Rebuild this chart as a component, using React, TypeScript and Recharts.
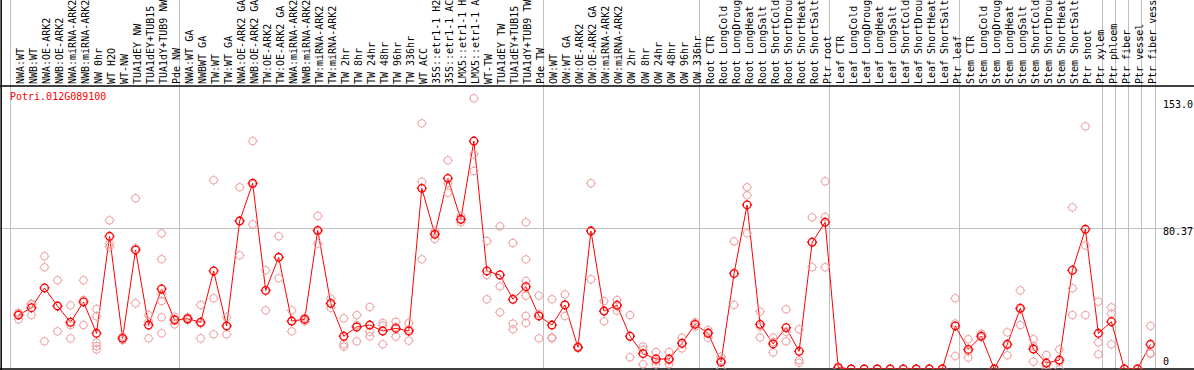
import {
  ComposedChart,
  XAxis,
  YAxis,
  Line,
  Scatter,
  ReferenceLine,
} from 'recharts';

const geneName = 'Potri.012G089100';

const categories = [
  'NWA:WT', 'NWB:WT', 'NWA:OE-ARK2', 'NWB:OE-ARK2', 'NWA:miRNA-ARK2', 'NWB:miRNA-ARK2',
  'NW 0hr', 'WT H2O', 'WT-NW', 'TUA1dEY NW', 'TUA1dEY+TUB15 NW', 'TUA1dY+TUB9 NW', 'Pde NW',
  'NWA:WT GA', 'NWBWT GA', 'TW:WT', 'TW:WT GA', 'NWA:OE-ARK2 GA', 'NWB:OE-ARK2 GA',
  'TW:OE-ARK2', 'TW:OE-ARK2 GA', 'NWA:miRNA-ARK2', 'NWB:miRNA-ARK2', 'TW:miRNA-ARK2',
  'TW:miRNA-ARK2', 'TW 2hr', 'TW 8hr', 'TW 24hr', 'TW 48hr', 'TW 96hr', 'TW 336hr', 'WT ACC',
  '35S::etr1-1 H2O', '35S::etr1-1 ACC', 'LMX5::etr1-1 H2O', 'LMX5::etr1-1 ACC', 'WT-TW',
  'TUA1dEY TW', 'TUA1dEY+TUB15 TW', 'TUA1dY+TUB9 TW', 'Pde TW',
  'OW:WT', 'OW:WT GA', 'OW:OE-ARK2', 'OW:OE-ARK2 GA', 'OW:miRNA-ARK2', 'OW:miRNA-ARK2',
  'OW 2hr', 'OW 8hr', 'OW 24hr', 'OW 48hr', 'OW 96hr', 'OW 336hr',
  'Root CTR', 'Root LongCold', 'Root LongDrought', 'Root LongHeat', 'Root LongSalt',
  'Root ShortCold', 'Root ShortDrought', 'Root ShortHeat', 'Root ShortSalt', 'Ptr root',
  'Leaf CTR', 'Leaf LongCold', 'Leaf LongDrought', 'Leaf LongHeat', 'Leaf LongSalt',
  'Leaf ShortCold', 'Leaf ShortDrought', 'Leaf ShortHeat', 'Leaf ShortSalt', 'Ptr leaf',
  'Stem CTR', 'Stem LongCold', 'Stem LongDrought', 'Stem LongHeat', 'Stem LongSalt',
  'Stem ShortCold', 'Stem ShortDrought', 'Stem ShortHeat', 'Stem ShortSalt', 'Ptr shoot',
  'Ptr xylem', 'Ptr phloem', 'Ptr fiber', 'Ptr vessel', 'Ptr fiber vessel',
];

const meanValues = [
  30.8, 35.0, 46.3, 36.0, 26.7, 38.3, 20.4, 75.8, 17.5, 68.0, 25.1, 45.7, 28.0,
  28.7, 26.7, 56.0, 24.6, 84.5, 106.1, 44.9, 63.8, 27.4, 28.4, 79.2, 37.5, 18.7,
  24.0, 25.1, 21.7, 23.2, 21.7, 103.2, 76.9, 108.9, 85.5, 130.2, 56.0, 53.7, 39.8,
  47.0, 30.3,
  25.1, 36.6, 12.4, 78.8, 33.1, 36.4, 18.7, 8.8, 5.7, 5.7, 14.7, 25.5,
  20.4, 4.0, 54.6, 93.7, 25.5, 14.3, 23.6, 10.1, 72.4, 83.8,
  0.8, 0, 0, 0, 0, 0, 0, 0, 0, 24.6,
  11.2, 18.8, 0, 14.1, 34.7, 11.4, 3.4, 5.1, 56.4, 79.8, 20.4,
  27.0, 0, 0, 14.1,
];

const replicateValues = [
  [32.2, 28.4, 31.5], [37.3, 30.8, 36.9], [64.4, 58.1, 15.8], [50.7, 21.5, 35.8],
  [36.4, 25.1, 17.5], [50.7, 39.4, 25.1], [34.3, 30.1, 15.0, 13.1, 11.2], [84.9, 71.6, 69.7],
  [18.5, 17.5, 16.5], [97.5, 37.5, 69.0], [30.8, 27.0, 17.5],
  [77.5, 62.7, 42.7, 38.8, 29.5, 20.4], [29.9, 25.5, 28.6],
  [29.5, 28.0, 28.6], [36.6, 17.5, 26.0], [107.8, 40.4, 19.8], [29.5, 19.8, 24.5],
  [103.8, 64.9, 84.8], [130.2, 82.6, 105.5], [56.4, 33.5, 44.8], [75.8, 51.8, 63.8],
  [33.5, 21.5, 27.2], [29.5, 28.5, 27.2], [87.4, 71.6, 78.6], [40.2, 35.0, 37.3],
  [28.9, 14.1, 12.8], [30.8, 25.1, 15.8], [35.4, 21.3, 18.7], [26.3, 24.8, 14.1],
  [27.0, 18.5, 24.0], [26.3, 16.2, 22.6], [140.3, 107.0, 62.6], [78.8, 74.3, 77.6],
  [119.2, 106.1, 100.7], [87.4, 83.8, 85.3], [154.6, 122.6, 113.1], [73.1, 53.7, 39.8],
  [81.5, 47.2, 32.4], [72.0, 25.9, 22.7], [83.8, 62.6, 50.3, 41.9, 30.3, 26.3],
  [41.9, 17.5, 31.5],
  [39.8, 17.5, 18.0], [42.6, 30.3, 36.8], [13.0, 12.2, 12.0], [106.1, 51.2, 79.0],
  [38.8, 27.2, 33.3], [39.4, 33.3, 36.4], [30.8, 6.7, 18.6], [12.8, 2.7, 10.9],
  [9.7, 2.7, 4.7], [9.7, 2.7, 4.8], [17.9, 11.8, 14.4], [26.7, 24.2, 25.6],
  [22.3, 17.9, 20.9], [7.0, 0, 5.0], [72.9, 36.6, 54.4], [103.8, 99.2, 77.5],
  [32.8, 18.0, 24.2], [18.0, 9.5, 15.4], [34.1, 21.3, 15.8], [22.7, 5.0, 3.6],
  [86.6, 58.1, 72.5], [107.2, 86.8, 58.1],
  [1.5, 0.5, 0.3], [0, 0, 0], [0, 0, 0], [0, 0, 0], [0, 0, 0], [0, 0, 0], [0, 0, 0],
  [0, 0, 0], [0, 0, 0], [40.4, 7.4, 26.0],
  [17.0, 10.0, 6.5], [20.2, 18.0, 18.3], [0, 0, 0], [20.9, 7.8, 13.7], [44.9, 25.1, 34.0],
  [17.0, 4.2, 13.0], [8.0, 0, 2.3], [11.2, 0, 4.0], [92.3, 46.1, 30.8], [138.6, 70.6, 30.8],
  [38.5, 15.2, 8.4],
  [35.2, 31.6, 14.1], [0, 0, 0], [0, 0, 0], [24.6, 9.0, 8.7],
];

// group boundaries (index of first column of each new block)
const groupStarts = [0, 13, 41, 53, 63, 73, 84, 85, 86, 87, 88];

const yTicks = [0, 80.37, 153.0];
const yTickLabels = ['0', '80.37', '153.0'];

const meanData = categories.map((name, i) => ({ x: i, y: meanValues[i], name }));
const repData = replicateValues.flatMap((reps, i) => reps.map(v => ({ x: i, y: v })));

const X_MIN = -0.65;
const X_MAX = 87.35;
const Y_MAX = 161.65;
const MONO = '"DejaVu Sans Mono", monospace';

function Marker({ cx, cy, color, width }: { cx: number; cy: number; color: string; width: number }) {
  if (cx == null || cy == null) return null;
  const r = 3.8;
  return (
    <g stroke={color} fill="none" strokeWidth={width}>
      <circle cx={cx} cy={cy} r={r} />
      <line x1={cx} y1={cy - 5} x2={cx} y2={cy - r} />
      <line x1={cx} y1={cy + r} x2={cx} y2={cy + 5} />
      <line x1={cx - 5} y1={cy} x2={cx - r} y2={cy} />
      <line x1={cx + r} y1={cy} x2={cx + 5} y2={cy} />
    </g>
  );
}

function CategoryTick(props: any) {
  const { x, payload } = props;
  const label = categories[payload.value] ?? '';
  return (
    <text
      transform={`translate(${x + 5.5}, 84) rotate(-90)`}
      fontFamily={MONO}
      fontSize={10}
      fill="#000"
      textAnchor="start"
    >
      {label}
    </text>
  );
}

function ValueTick(props: any) {
  const { y, payload } = props;
  const k = yTicks.findIndex(t => Math.abs(t - payload.value) < 1e-6);
  const dy = payload.value === 0 ? -4 : 7;
  return (
    <text x={1163} y={y + dy} fontFamily={MONO} fontSize={10} fill="#000" textAnchor="start">
      {k >= 0 ? yTickLabels[k] : ''}
    </text>
  );
}

export default function App() {
  return (
    <div style={{ position: 'absolute', left: 0, top: 0, width: 1194, height: 370, background: '#fff' }}>
      <ComposedChart
        width={1194}
        height={370}
        data={meanData}
        margin={{ top: 0, right: 0, bottom: 1, left: 10 }}
      >
        <XAxis
          type="number"
          dataKey="x"
          orientation="top"
          domain={[X_MIN, X_MAX]}
          ticks={categories.map((_, i) => i)}
          interval={0}
          height={86}
          tick={<CategoryTick />}
          axisLine={false}
          tickLine={false}
          allowDataOverflow
        />
        <YAxis
          type="number"
          dataKey="y"
          orientation="right"
          domain={[0, Y_MAX]}
          ticks={yTicks}
          interval={0}
          width={39}
          tick={<ValueTick />}
          axisLine={false}
          tickLine={false}
          allowDataOverflow
        />

        {groupStarts.map(g => (
          <ReferenceLine
            key={'sep' + g}
            segment={[{ x: g + X_MIN, y: 0 }, { x: g + X_MIN, y: 215 }]}
            stroke="#c0c0c0"
            strokeWidth={1}
            ifOverflow="visible"
            shapeRendering="crispEdges"
          />
        ))}
        <ReferenceLine
          segment={[{ x: -2, y: 80.37 }, { x: 91, y: 80.37 }]}
          stroke="#c0c0c0"
          ifOverflow="visible"
          shapeRendering="crispEdges"
        />
        <ReferenceLine
          segment={[{ x: -2, y: Y_MAX }, { x: 91, y: Y_MAX }]}
          stroke="#000"
          strokeWidth={1.5}
          ifOverflow="visible"
        />
        <ReferenceLine
          segment={[{ x: -2, y: 0 }, { x: 91, y: 0 }]}
          stroke="#000"
          strokeWidth={1.5}
          ifOverflow="visible"
        />
        <ReferenceLine
          segment={[{ x: X_MIN - 0.68, y: -5 }, { x: X_MIN - 0.68, y: 215 }]}
          stroke="#000"
          strokeWidth={1.5}
          ifOverflow="visible"
        />

        <Scatter
          data={repData}
          dataKey="y"
          isAnimationActive={false}
          shape={(p: any) => <Marker cx={p.cx} cy={p.cy} color="#f0a0a0" width={1} />}
        />
        <Line
          type="linear"
          dataKey="y"
          stroke="#ff0000"
          strokeWidth={1}
          isAnimationActive={false}
          dot={(p: any) => <Marker key={'m' + p.index} cx={p.cx} cy={p.cy} color="#ff0000" width={1.3} />}
          activeDot={false}
        />
      </ComposedChart>
      <div
        style={{
          position: 'absolute',
          left: 10,
          top: 91,
          fontFamily: MONO,
          fontSize: 10,
          lineHeight: '12px',
          color: '#ff0000',
        }}
      >
        {geneName}
      </div>
    </div>
  );
}
